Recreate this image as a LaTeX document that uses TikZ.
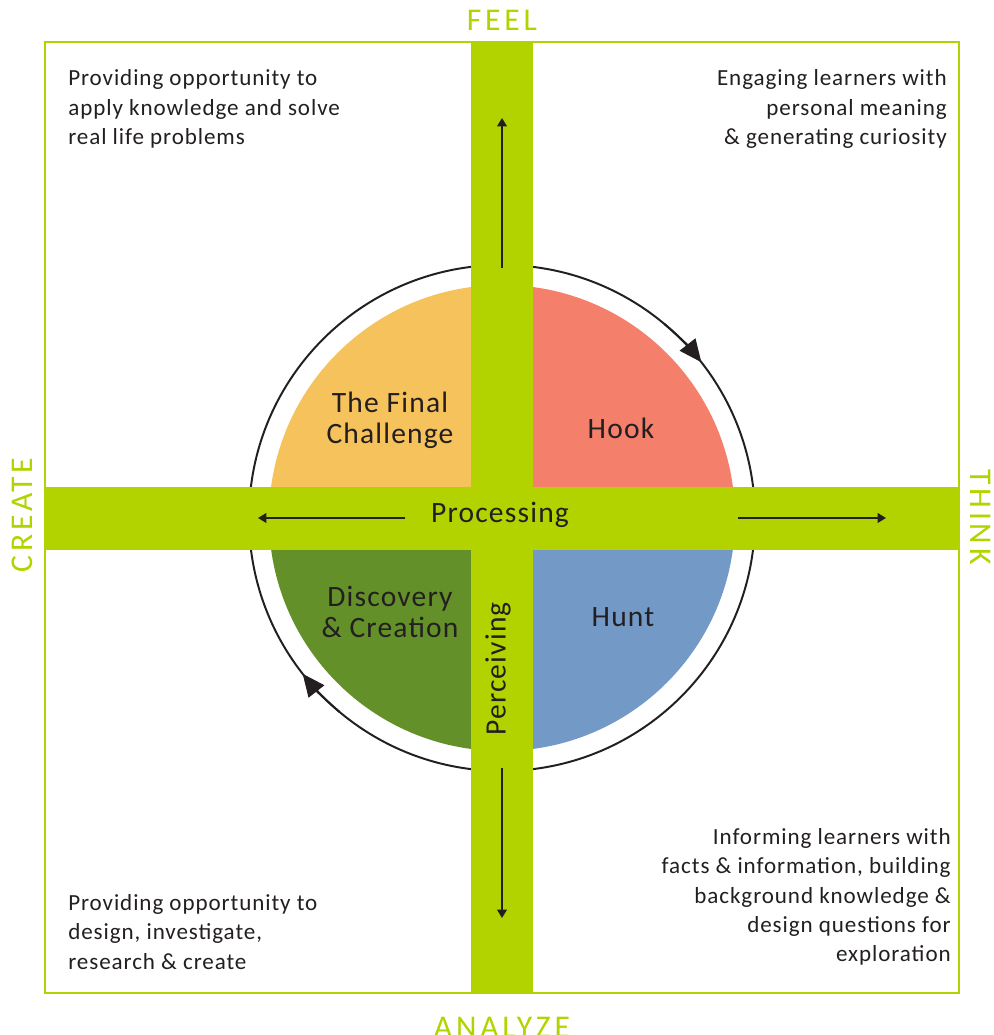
\documentclass[tikz,border=0pt]{standalone}
\usepackage{fontspec}
\setmainfont{Carlito}
\newfontfamily\wide[LetterSpace=12]{Carlito}
\newfontfamily\semiwide[LetterSpace=4]{Carlito}
\usetikzlibrary{arrows.meta}
\definecolor{barg}{HTML}{B2D300}
\definecolor{qorange}{HTML}{F6C25C}
\definecolor{qsalmon}{HTML}{F47F6B}
\definecolor{qblue}{HTML}{7399C6}
\definecolor{qgreen}{HTML}{64902A}
\definecolor{txt}{HTML}{231F20}
\begin{document}
\begin{tikzpicture}[x=0.025cm,y=0.025cm,
  axislabel/.style={text=barg,font=\wide\fontsize{22.5}{26}\selectfont,inner sep=0pt},
  body/.style={text=txt,font=\semiwide\fontsize{16.4}{20.8}\selectfont,inner sep=0pt},
  quad/.style={text=txt,font=\semiwide\fontsize{21}{22}\selectfont,inner sep=0pt,align=center},
  bararrow/.style={draw=txt,line width=1pt,-{Triangle[length=6pt,width=7pt]}},
  cycarrow/.style={draw=txt,line width=1.4pt,-{Triangle[length=16pt,width=14pt]}}]
\useasboundingbox (0,0) rectangle (994,1035);
\coordinate (c) at (502,517);
% quadrants
\fill[qsalmon] (c) -- ++(0:233) arc[start angle=0,end angle=90,radius=233] -- cycle;
\fill[qorange] (c) -- ++(90:233) arc[start angle=90,end angle=180,radius=233] -- cycle;
\fill[qgreen] (c) -- ++(180:233) arc[start angle=180,end angle=270,radius=233] -- cycle;
\fill[qblue] (c) -- ++(270:233) arc[start angle=270,end angle=360,radius=233] -- cycle;
% outer cycle
\draw[txt,line width=1.4pt] (c) circle[radius=253];
\draw[cycarrow] (c) ++(50:253) arc[start angle=50,end angle=38,radius=253];
\draw[cycarrow] (c) ++(230:253) arc[start angle=230,end angle=218,radius=253];
% frame
\draw[barg,line width=0.8pt] (45,42) rectangle (959,993);
% bars
\fill[barg] (471,42) rectangle (533,993);
\fill[barg] (45,485) rectangle (959,548);
% bar arrows
\coordinate (u1) at (502,767); \coordinate (u2) at (502,917);
\coordinate (d1) at (502,267); \coordinate (d2) at (502,117);
\coordinate (l1) at (405,517); \coordinate (l2) at (258,517);
\coordinate (r1) at (738,517); \coordinate (r2) at (886,517);
\draw[bararrow] (u1) -- (u2);
\draw[bararrow] (d1) -- (d2);
\draw[bararrow] (l1) -- (l2);
\draw[bararrow] (r1) -- (r2);
% axis labels
\node[axislabel] (feel) at (502,1015) {FEEL};
\node[axislabel] (analyze) at (502,8) {ANALYZE};
\node[axislabel,rotate=90] (create) at (22,520) {CREATE};
\node[axislabel,rotate=-90] (think) at (981,518) {THINK};
% quadrant labels
\node[quad] (final) at (390,615) {The Final\\Challenge};
\node[quad] (hook) at (621,607) {Hook};
\node[quad] (disc) at (390,423) {Discovery\\\& Creation};
\node[quad] (hunt) at (623,418) {Hunt};
\node[quad] (proc) at (500,520) {Processing};
\node[quad,rotate=90] (perc) at (498,366) {Perceiving};
% corner texts
\node[body,align=left,anchor=west] (tl) at (68,926) {Providing opportunity to\\apply knowledge and solve\\real life problems};
\node[body,align=right,anchor=east] (tr) at (947,926) {Engaging learners with\\personal meaning\\\& generating curiosity};
\node[body,align=left,anchor=west] (bl) at (68,103) {Providing opportunity to\\design, investigate,\\research \& create};
\node[body,align=right,anchor=east] (br) at (951,138) {Informing learners with\\facts \& information, building\\background knowledge \&\\design questions for\\exploration};
\end{tikzpicture}
\end{document}
